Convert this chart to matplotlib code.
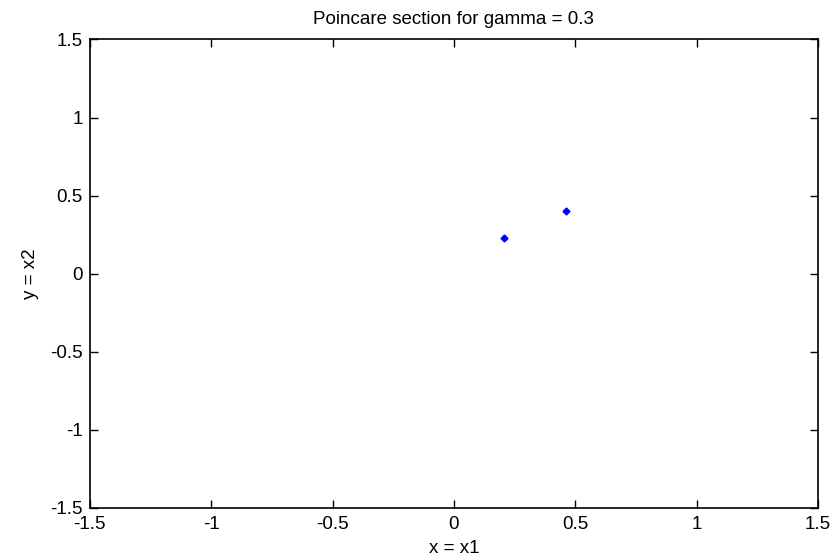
import matplotlib
matplotlib.use("Agg")
import matplotlib.pyplot as plt

x_vals = [0.206, 0.461]
y_vals = [0.226, 0.403]
ticks = [-1.5, -1, -0.5, 0, 0.5, 1, 1.5]
tick_labels = ["-1.5", "-1", "-0.5", "0", "0.5", "1", "1.5"]

plt.rcParams['font.family'] = ['Liberation Sans', 'DejaVu Sans']
fig = plt.figure(figsize=(8.32, 5.56), dpi=100)
ax = fig.add_axes([0.108, 0.087, 0.875, 0.842])
ax.plot(x_vals, y_vals, linestyle='none', marker='D', markersize=3.5, color='blue')
ax.set_xlim(-1.5, 1.5)
ax.set_ylim(-1.5, 1.5)
ax.set_xticks(ticks)
ax.set_xticklabels(tick_labels)
ax.set_yticks(ticks)
ax.set_yticklabels(tick_labels)
ax.tick_params(direction='in', top=True, right=True, length=6, width=1, labelsize=13.5)
ax.tick_params(axis='x', pad=6)
ax.tick_params(axis='y', pad=5)
for s in ax.spines.values():
    s.set_linewidth(1.2)
ax.set_title("Poincare section for gamma = 0.3", fontsize=13.5, pad=11)
ax.set_xlabel("x = x1", fontsize=13.5, labelpad=5)
ax.set_ylabel("y = x2", fontsize=13.5, labelpad=8)
fig.savefig("out.png", dpi=100)
